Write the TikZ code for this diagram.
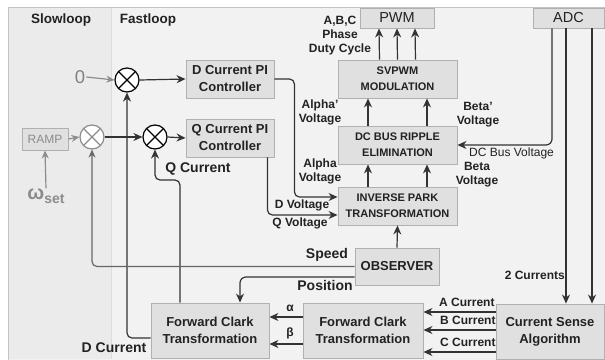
\documentclass[tikz,border=0pt]{standalone}
\usepackage{fontspec}
\setmainfont{Liberation Sans}
\usetikzlibrary{arrows.meta}
\definecolor{bg}{HTML}{F2F2F2}
\definecolor{slow}{HTML}{EBEBEB}
\definecolor{frame}{HTML}{C4C4C4}
\definecolor{boxfill}{HTML}{E0E0E0}
\definecolor{boxline}{HTML}{B0B0B0}
\definecolor{ln}{HTML}{333333}
\definecolor{txt}{HTML}{222222}
\definecolor{gln}{HTML}{8C8C8C}
\newcommand{\myfs}[2]{\fontsize{#1}{#2}\selectfont}
\tikzset{
  box/.style={draw=boxline, fill=boxfill, line width=0.9pt, align=center, inner sep=0pt, text=txt, font=\bfseries\myfs{13}{17}},
  capbox/.style={box, font=\bfseries\myfs{11}{16}},
  lbl/.style={text=txt, font=\bfseries\myfs{12}{14}, align=center, inner sep=0pt},
  biglbl/.style={text=txt, font=\bfseries\myfs{14}{16}, inner sep=0pt},
  arr/.style={draw=ln, line width=1.2pt, -{Stealth[length=9pt,width=8pt]}},
  ln/.style={draw=ln, line width=1.2pt},
  garr/.style={draw=gln, line width=1.2pt, -{Stealth[length=8pt,width=7pt]}},
  sarr/.style={draw=ln!75, line width=1.2pt, -{Stealth[length=8pt,width=7pt]}},
  sumn/.style={circle, draw=black, fill=white, line width=1.2pt, minimum size=24pt, inner sep=0pt,
    path picture={\draw[line width=1.2pt] (path picture bounding box.north west) -- (path picture bounding box.south east) (path picture bounding box.south west) -- (path picture bounding box.north east);}},
  gsumn/.style={circle, draw=gln, fill=white, line width=1.2pt, minimum size=24pt, inner sep=0pt,
    path picture={\draw[gln, line width=1.2pt] (path picture bounding box.north west) -- (path picture bounding box.south east) (path picture bounding box.south west) -- (path picture bounding box.north east);}},
}
\begin{document}
\begin{tikzpicture}[x=1pt,y=-1pt]
\useasboundingbox (0,0) rectangle (605,359);
\fill[white] (0,0) rectangle (605,359);
\filldraw[fill=bg, draw=frame, line width=1pt] (8,7) rectangle (607,361);
\fill[slow] (8.5,7.5) rectangle (111,359);
\draw[frame!60, line width=1pt] (111,7.5) -- (111,359);
\draw[frame, line width=1pt] (8,7) -- (8,359);

% titles
\node[text=txt, font=\bfseries\myfs{13.5}{15}] (slowt) at (61,20) {Slowloop};
\node[text=txt, font=\bfseries\myfs{13.5}{15}] (fastt) at (148,20) {Fastloop};

% boxes
\node[box, font=\myfs{14.5}{16}, minimum width=74pt, minimum height=20pt] (pwm) at (397,18) {PWM};
\node[box, font=\myfs{14.5}{16}, minimum width=71pt, minimum height=20pt] (adc) at (568.5,18) {ADC};
\node[capbox, minimum width=119pt, minimum height=38pt] (svm) at (397.5,79) {SVPWM\\MODULATION};
\node[capbox, minimum width=119pt, minimum height=38pt] (dc) at (397.5,145) {DC BUS RIPPLE\\ELIMINATION};
\node[capbox, minimum width=119pt, minimum height=38pt] (inv) at (397.5,206) {INVERSE PARK\\TRANSFORMATION};
\node[box, minimum width=84pt, minimum height=37pt] (obs) at (397,266.5) {OBSERVER};
\node[box, minimum width=88pt, minimum height=38pt] (dpi) at (230,79) {D Current PI\\Controller};
\node[box, minimum width=88pt, minimum height=38pt] (qpi) at (230,138) {Q Current PI\\Controller};
\node[box, minimum width=118pt, minimum height=55pt] (fc1) at (210,330.5) {Forward Clark\\Transformation};
\node[box, minimum width=120pt, minimum height=55pt] (fc2) at (363,330.5) {Forward Clark\\Transformation};
\node[box, minimum width=108pt, minimum height=55pt] (csa) at (550,331.5) {Current Sense\\Algorithm};
\node[draw=boxline, fill=boxfill, line width=0.9pt, inner sep=0pt, minimum width=46pt, minimum height=22pt, text=gln, font=\myfs{12}{14}] (ramp) at (45,139) {RAMP};

% summing junctions
\node[sumn] (sum1) at (127,80) {};
\node[sumn] (sumq) at (155,137) {};
\node[gsumn] (sums) at (92,137) {};

% gray inputs
\node[text=gln!110, font=\myfs{18.5}{19}, inner sep=1pt] (zero) at (80,77) {0};
\node[text=gln, font=\bfseries, inner sep=0pt] (omega) at (46,196) {{\myfs{20}{20}ω}{\myfs{14}{14}\raisebox{-4pt}{set}}};

% forward paths
\draw[garr] (zero.east) -- (sum1.west);
\draw[arr] (sum1.east) -- (dpi.west);
\draw[garr] (ramp.east) -- (sums.west);
\draw[arr] (sums.east) -- (sumq.west);
\draw[arr] (sumq.east) -- (qpi.west);
\draw[garr] (omega.north) -- (ramp.south);

\draw[arr, rounded corners=5pt] (dpi.east) -- ++(20,0) |- ([yshift=9pt]inv.west);
\draw[arr, rounded corners=5pt] ([xshift=-7pt]qpi.south east) |- ([yshift=-9pt]inv.west);

\draw[arr] ([xshift=-29.5pt]inv.north) -- ([xshift=-29.5pt]dc.south);
\draw[arr] ([xshift=29.5pt]inv.north) -- ([xshift=29.5pt]dc.south);
\draw[arr] ([xshift=-29.5pt]dc.north) -- ([xshift=-29.5pt]svm.south);
\draw[arr] ([xshift=29.5pt]dc.north) -- ([xshift=29.5pt]svm.south);
\draw[arr] ([xshift=-18pt]svm.north) -- ([xshift=-18pt]pwm.south);
\draw[arr] (svm.north) -- (pwm.south);
\draw[arr] ([xshift=18pt]svm.north) -- ([xshift=18pt]pwm.south);
\draw[arr] (obs.north) -- (inv.south);

\draw[arr, rounded corners=6pt] ([xshift=-16.5pt]adc.south) |- (dc.east);
\draw[arr] ([xshift=-2.5pt]adc.south) -- ([xshift=16pt]csa.north);
\draw[arr] ([xshift=23.5pt]adc.south) -- ([xshift=42pt]csa.north);

\draw[arr] ([yshift=19.5pt]csa.west) -- ([yshift=19.5pt]csa.west -| fc2.east);
\draw[arr] ([yshift=1.5pt]csa.west) -- ([yshift=1.5pt]csa.west -| fc2.east);
\draw[arr] ([yshift=-20.5pt]csa.west) -- ([yshift=-20.5pt]csa.west -| fc2.east);
\draw[arr] ([yshift=13.5pt]fc2.west) -- ([yshift=13.5pt]fc2.west -| fc1.east);
\draw[arr] ([yshift=-13.5pt]fc2.west) -- ([yshift=-13.5pt]fc2.west -| fc1.east);

% feedback paths
\coordinate (qcorner) at (155,180);
\draw[arr, rounded corners=5pt] ([xshift=-30pt]fc1.north) |- (qcorner) -- (sumq.south);
\draw[arr, rounded corners=5pt] ([yshift=-7.5pt]fc1.west) -| (sum1.south);
\draw[sarr, rounded corners=5pt] (obs.west) -| (sums.south);
\draw[arr, rounded corners=6pt] ([yshift=-10.5pt]obs.west) -| ([xshift=30pt]fc1.north);

% labels
\node[lbl] (abc) at (340,36) {A,B,C\\Phase\\Duty Cycle};
\node[lbl] (alphap) at (320,112) {Alpha'\\Voltage};
\node[lbl] (betap) at (478,115) {Beta'\\Voltage};
\node[lbl] (alpha) at (320,171) {Alpha\\Voltage};
\node[lbl] (beta) at (477,175) {Beta\\Voltage};
\node[lbl, font=\myfs{12}{14}, anchor=west] (dcbv) at (469,153) {DC Bus Voltage};
\node[lbl] (dv) at (302,205) {D Voltage};
\node[lbl] (qv) at (300,223) {Q Voltage};
\node[biglbl] (qc) at (198,169) {Q Current};
\node[biglbl] (dcur) at (114,348) {D Current};
\node[biglbl] (speed) at (327,255) {Speed};
\node[biglbl] (pos) at (325,285) {Position};
\node[lbl, anchor=east] (twoc) at (565,275) {2 Currents};
\node[lbl, anchor=west] (ac) at (439,302) {A Current};
\node[lbl, anchor=west] (bc) at (440,320) {B Current};
\node[lbl, anchor=west] (cc) at (440,342) {C Current};
\node[lbl] (al) at (290,308) {α};
\node[lbl] (be) at (290,333) {β};
\end{tikzpicture}
\end{document}
